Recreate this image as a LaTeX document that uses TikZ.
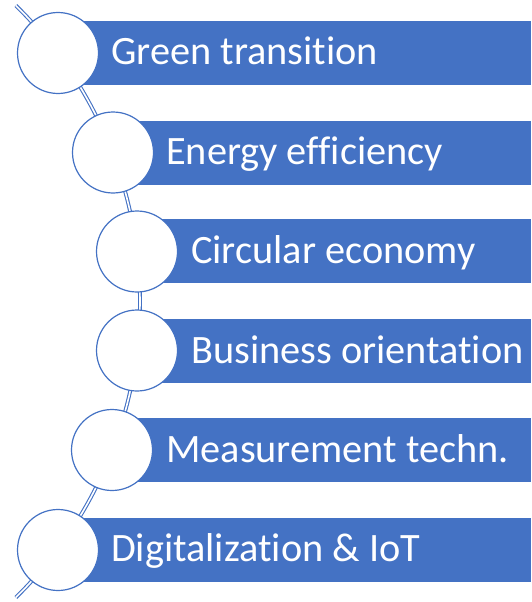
\documentclass[tikz,border=0pt]{standalone}
\usepackage{fontspec}
\setmainfont[Ligatures=NoCommon]{Carlito}
\definecolor{accent}{HTML}{4472C4}
\begin{document}
\begin{tikzpicture}[x=1pt,y=-1pt,
  bar/.style={fill=accent, draw=none, rectangle, minimum height=64pt, inner sep=0pt, anchor=west},
  disc/.style={circle, fill=white, draw=accent, line width=1.2pt, minimum size=81pt, inner sep=0pt},
  caption/.style={anchor=base west, inner sep=0pt, text=white, font=\fontsize{40.3}{48}\selectfont},
  spine/.style={draw=accent, double=white, line width=1.1pt, double distance=1.6pt}]
  \useasboundingbox (0,0) rectangle (531,602);
  % curved spine behind the circles
  \draw[spine] plot[domain=-45.5:45.5, samples=80] ({-275+415*cos(\x)}, {301.5+415*sin(\x)});
  % bars
  \node[bar, minimum width=473pt] (b1) at (58,53) {};
  \node[bar, minimum width=418pt] (b2) at (113,152.5) {};
  \node[bar, minimum width=394pt] (b3) at (137,251) {};
  \node[bar, minimum width=394pt] (b4) at (137,351) {};
  \node[bar, minimum width=419pt] (b5) at (112,450) {};
  \node[bar, minimum width=473pt] (b6) at (58,549.5) {};
  % captions
  \node[caption] (t1) at (111,65) {Green transition};
  \node[caption] (t2) at (166,164.5) {Energy efficiency};
  \node[caption] (t3) at (191,263) {Circular economy};
  \node[caption] (t4) at (191,363) {Business orientation};
  \node[caption] (t5) at (166,462) {Measurement techn.};
  \node[caption] (t6) at (111,561.5) {Digitalization \& IoT};
  % circles
  \node[disc] (c1) at (58,53) {};
  \node[disc] (c2) at (113,152.5) {};
  \node[disc] (c3) at (137,251.5) {};
  \node[disc] (c4) at (137,350.5) {};
  \node[disc] (c5) at (112,450) {};
  \node[disc] (c6) at (58,550) {};
\end{tikzpicture}
\end{document}
